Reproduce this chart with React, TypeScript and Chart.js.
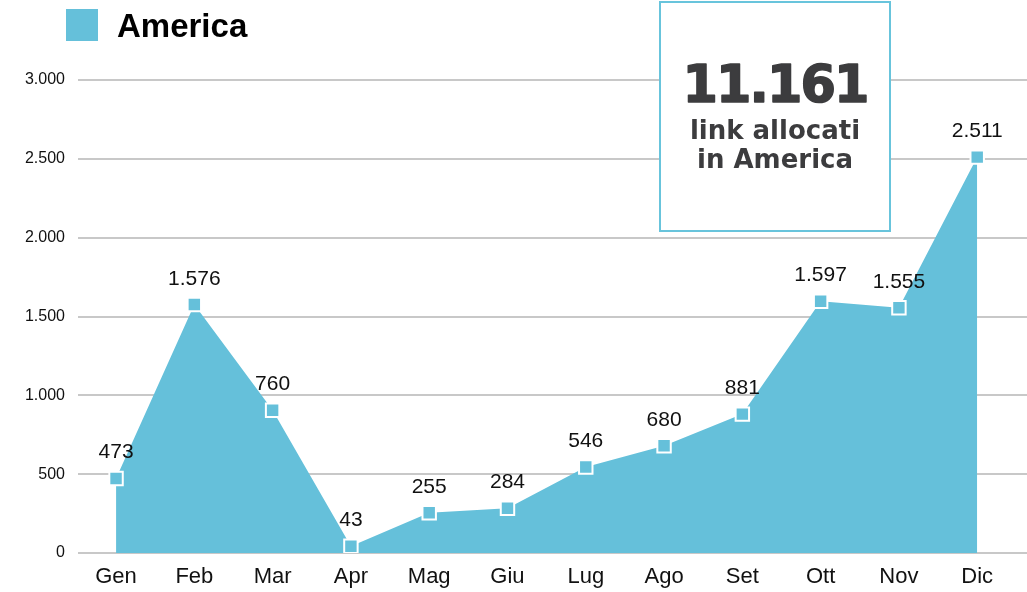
import { useEffect, useRef } from "react";
import { Chart, registerables } from "chart.js";

Chart.register(...registerables);

// ---- data ----
const months = ["Gen", "Feb", "Mar", "Apr", "Mag", "Giu", "Lug", "Ago", "Set", "Ott", "Nov", "Dic"];
// values as drawn in the picture (Mar point is drawn near 905 although its label reads 760)
const seriesValues = [473, 1576, 905, 43, 255, 284, 546, 680, 881, 1597, 1555, 2511];
const valueLabels = ["473", "1.576", "760", "43", "255", "284", "546", "680", "881", "1.597", "1.555", "2.511"];
const yTickValues = [0, 500, 1000, 1500, 2000, 2500, 3000];
const yTickLabels = ["0", "500", "1.000", "1.500", "2.000", "2.500", "3.000"];
const seriesName = "America";
const totalLabel = "11.161";
const totalCaption = ["link allocati", "in America"];

const BLUE = "rgb(101,192,218)";
const SANS = '"Liberation Sans", Arial, Helvetica, sans-serif';
const HEAVY = '"DejaVu Sans", "Liberation Sans", sans-serif';

const overlayPlugin = {
  id: "overlay",
  afterDatasetsDraw(chart: any) {
    const ctx = chart.ctx as CanvasRenderingContext2D;
    const meta = chart.getDatasetMeta(0);
    ctx.save();
    ctx.font = `21px ${SANS}`;
    ctx.fillStyle = "#111";
    ctx.textAlign = "center";
    ctx.textBaseline = "alphabetic";
    meta.data.forEach((pt: any, i: number) => {
      ctx.fillText(valueLabels[i], pt.x, pt.y - 20);
    });
    ctx.restore();
  },
  afterDraw(chart: any) {
    const ctx = chart.ctx as CanvasRenderingContext2D;
    ctx.save();
    // legend
    ctx.fillStyle = BLUE;
    ctx.fillRect(66, 9, 32, 32);
    ctx.fillStyle = "#000";
    ctx.font = `bold 33px ${SANS}`;
    ctx.textAlign = "left";
    ctx.textBaseline = "alphabetic";
    ctx.fillText(seriesName, 117, 37);
    // total box
    ctx.fillStyle = "#fff";
    ctx.fillRect(660, 2, 230, 229);
    ctx.strokeStyle = "rgb(104,196,220)";
    ctx.lineWidth = 2;
    ctx.strokeRect(660, 2, 230, 229);
    ctx.fillStyle = "#3c3c3e";
    ctx.strokeStyle = "#3c3c3e";
    ctx.textAlign = "center";
    ctx.font = `bold 51px ${HEAVY}`;
    (ctx as any).letterSpacing = "-2px";
    ctx.lineWidth = 1.5;
    ctx.lineJoin = "round";
    ctx.fillText(totalLabel, 775, 102);
    ctx.strokeText(totalLabel, 775, 102);
    (ctx as any).letterSpacing = "0px";
    ctx.font = `bold 26px ${HEAVY}`;
    ctx.fillText(totalCaption[0], 775, 139);
    ctx.fillText(totalCaption[1], 775, 168);
    ctx.restore();
  },
};

export default function App() {
  const ref = useRef<HTMLCanvasElement | null>(null);

  useEffect(() => {
    document.body.style.margin = "0";
    document.body.style.background = "#fff";
    const canvas = ref.current;
    if (!canvas) return;
    const chart = new Chart(canvas, {
      type: "line",
      data: {
        datasets: [
          {
            label: seriesName,
            data: seriesValues.map((v, i) => ({ x: i, y: v })),
            backgroundColor: BLUE,
            borderColor: BLUE,
            borderWidth: 0,
            fill: "origin",
            tension: 0,
            pointStyle: "rect",
            pointRadius: 9.5,
            pointBackgroundColor: BLUE,
            pointBorderColor: "#fff",
            pointBorderWidth: 2,
          },
        ],
      },
      options: {
        responsive: false,
        animation: false,
        devicePixelRatio: 1,
        layout: { autoPadding: false, padding: { top: 80, right: 0, bottom: 0, left: 0 } },
        plugins: {
          legend: { display: false },
          tooltip: { enabled: false },
        },
        scales: {
          x: {
            type: "linear",
            min: -0.486,
            max: 11.636,
            grid: { display: false, drawTicks: false, tickLength: 0 },
            border: { display: false },
            afterBuildTicks: (axis: any) => {
              axis.ticks = months.map((_, i) => ({ value: i }));
            },
            afterFit: (axis: any) => {
              axis.height = 39;
              axis.paddingLeft = 0;
              axis.paddingRight = 0;
            },
            ticks: {
              autoSkip: false,
              maxRotation: 0,
              padding: 11,
              color: "#111",
              font: { family: SANS, size: 22 },
              callback: (v: any) => months[v as number] ?? "",
            },
          },
          y: {
            type: "linear",
            position: "left",
            min: 0,
            max: 3000,
            grid: { color: "#c8c8c8", lineWidth: 2, drawTicks: false, tickLength: 0 },
            border: { display: false },
            afterBuildTicks: (axis: any) => {
              axis.ticks = yTickValues.map((v) => ({ value: v }));
            },
            afterFit: (axis: any) => {
              axis.width = 78;
              axis.paddingTop = 0;
              axis.paddingBottom = 0;
            },
            ticks: {
              padding: 13,
              color: "#111",
              font: { family: SANS, size: 16 },
              callback: (_v: any, i: number) => yTickLabels[i],
            },
          },
        },
      },
      plugins: [overlayPlugin],
    });
    return () => chart.destroy();
  }, []);

  return <canvas ref={ref} width={1027} height={592} style={{ display: "block" }} />;
}
